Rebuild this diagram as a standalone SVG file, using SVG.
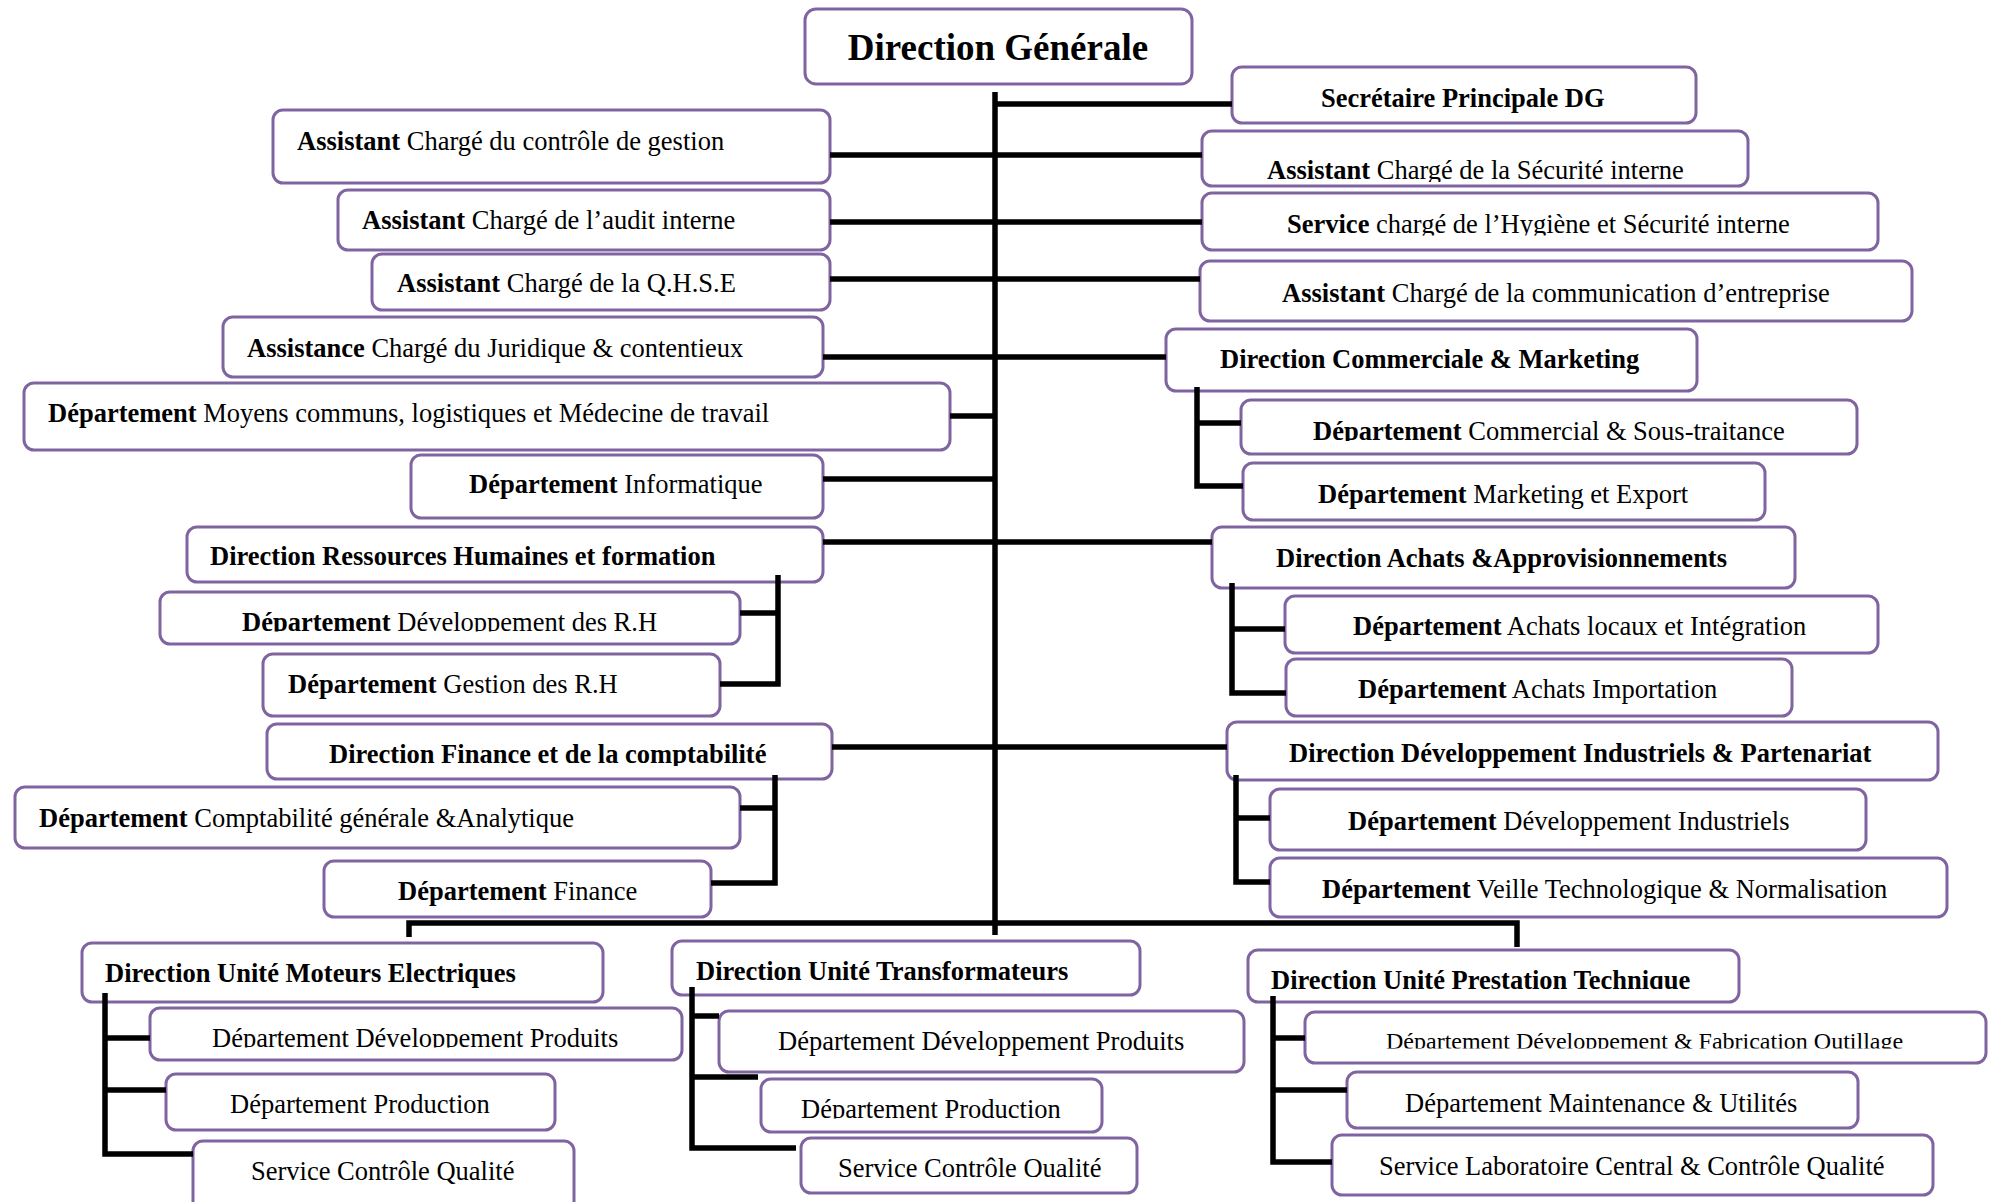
<svg xmlns="http://www.w3.org/2000/svg" width="1994" height="1202" viewBox="0 0 1994 1202">
  <style>
    .box { fill: #ffffff; stroke: #8064A2; stroke-width: 3; }
    .t { font-family: "Liberation Serif", "Times New Roman", serif; font-size: 26.5px; fill: #000000; }
    .b { font-weight: bold; }
    .s { font-size: 24px; }
    .title { font-family: "Liberation Serif", "Times New Roman", serif; font-size: 37px; font-weight: bold; fill: #000000; }
    #connectors path { fill: none; stroke: #000000; stroke-width: 5.5; stroke-linejoin: miter; }
  </style>
  <defs>
    <!-- text lines whose lower part is cut off by the box area -->
    <clipPath id="clipSecu" clipPathUnits="userSpaceOnUse"><rect x="1202" y="131" width="546" height="51"/></clipPath>
    <clipPath id="clipHyg" clipPathUnits="userSpaceOnUse"><rect x="1202" y="193" width="676" height="42.5"/></clipPath>
    <clipPath id="clipCom" clipPathUnits="userSpaceOnUse"><rect x="1241" y="400" width="616" height="41"/></clipPath>
    <clipPath id="clipDevRH" clipPathUnits="userSpaceOnUse"><rect x="160" y="592" width="580" height="39.5"/></clipPath>
    <clipPath id="clipFin" clipPathUnits="userSpaceOnUse"><rect x="267" y="724" width="565" height="42"/></clipPath>
    <clipPath id="clipDevP1" clipPathUnits="userSpaceOnUse"><rect x="150" y="1008" width="532" height="39.5"/></clipPath>
    <clipPath id="clipProd2" clipPathUnits="userSpaceOnUse"><rect x="761" y="1079" width="341" height="39.5"/></clipPath>
    <clipPath id="clipCQ2" clipPathUnits="userSpaceOnUse"><rect x="801" y="1138" width="336" height="39"/></clipPath>
    <clipPath id="clipPrest" clipPathUnits="userSpaceOnUse"><rect x="1248" y="950" width="491" height="39"/></clipPath>
    <clipPath id="clipOut" clipPathUnits="userSpaceOnUse"><rect x="1305" y="1012" width="681" height="36.5"/></clipPath>
  </defs>

  <!-- top -->
  <g id="dg">
    <rect class="box" x="805" y="9" width="387" height="75" rx="11"/>
    <text class="title" x="998" y="60" text-anchor="middle">Direction Générale</text>
  </g>

  <!-- left column -->
  <g id="ctrl-gestion">
    <rect class="box" x="273" y="110" width="557" height="73" rx="10"/>
    <text class="t" x="297" y="150"><tspan class="b">Assistant</tspan> Chargé du contrôle de gestion</text>
  </g>
  <g id="audit">
    <rect class="box" x="338" y="190" width="492" height="60" rx="10"/>
    <text class="t" x="362" y="229"><tspan class="b">Assistant</tspan> Chargé de l’audit interne</text>
  </g>
  <g id="qhse">
    <rect class="box" x="372" y="254" width="458" height="56" rx="10"/>
    <text class="t" x="397" y="292"><tspan class="b">Assistant</tspan> Chargé de la Q.H.S.E</text>
  </g>
  <g id="juridique">
    <rect class="box" x="223" y="317" width="600" height="60" rx="10"/>
    <text class="t" x="247" y="357"><tspan class="b">Assistance</tspan> Chargé du Juridique &amp; contentieux</text>
  </g>
  <g id="moyens">
    <rect class="box" x="24" y="383" width="926" height="67" rx="10"/>
    <text class="t" x="48" y="422"><tspan class="b">Département</tspan> Moyens communs, logistiques et Médecine de travail</text>
  </g>
  <g id="informatique">
    <rect class="box" x="411" y="455" width="412" height="63" rx="10"/>
    <text class="t" x="469" y="493"><tspan class="b">Département</tspan> Informatique</text>
  </g>
  <g id="dir-rh">
    <rect class="box" x="187" y="527" width="636" height="55" rx="10"/>
    <text class="t b" x="210" y="565">Direction Ressources Humaines et formation</text>
  </g>
  <g id="dev-rh">
    <rect class="box" x="160" y="592" width="580" height="52" rx="10"/>
    <text class="t" x="242" y="631" clip-path="url(#clipDevRH)"><tspan class="b">Département</tspan> Développement des R.H</text>
  </g>
  <g id="gestion-rh">
    <rect class="box" x="263" y="654" width="457" height="62" rx="10"/>
    <text class="t" x="288" y="693"><tspan class="b">Département</tspan> Gestion des R.H</text>
  </g>
  <g id="dir-finance">
    <rect class="box" x="267" y="724" width="565" height="55" rx="10"/>
    <text class="t b" x="329" y="763" clip-path="url(#clipFin)">Direction Finance et de la comptabilité</text>
  </g>
  <g id="comptabilite">
    <rect class="box" x="15" y="787" width="725" height="61" rx="10"/>
    <text class="t" x="39" y="827"><tspan class="b">Département</tspan> Comptabilité générale &amp;Analytique</text>
  </g>
  <g id="finance">
    <rect class="box" x="324" y="861" width="387" height="56" rx="10"/>
    <text class="t" x="398" y="900"><tspan class="b">Département</tspan> Finance</text>
  </g>

  <!-- right column -->
  <g id="secretaire">
    <rect class="box" x="1232" y="67" width="464" height="56" rx="10"/>
    <text class="t b" x="1321" y="107">Secrétaire Principale DG</text>
  </g>
  <g id="securite">
    <rect class="box" x="1202" y="131" width="546" height="55" rx="10"/>
    <text class="t" x="1267" y="179" clip-path="url(#clipSecu)"><tspan class="b">Assistant</tspan> Chargé de la Sécurité interne</text>
  </g>
  <g id="hygiene">
    <rect class="box" x="1202" y="193" width="676" height="57" rx="10"/>
    <text class="t" x="1287" y="233" clip-path="url(#clipHyg)"><tspan class="b">Service</tspan> chargé de l’Hygiène et Sécurité interne</text>
  </g>
  <g id="communication">
    <rect class="box" x="1200" y="261" width="712" height="60" rx="10"/>
    <text class="t" x="1282" y="302"><tspan class="b">Assistant</tspan> Chargé de la communication d’entreprise</text>
  </g>
  <g id="dir-commerciale">
    <rect class="box" x="1166" y="329" width="531" height="62" rx="10"/>
    <text class="t b" x="1220" y="368">Direction Commerciale &amp; Marketing</text>
  </g>
  <g id="commercial">
    <rect class="box" x="1241" y="400" width="616" height="54" rx="10"/>
    <text class="t" x="1313" y="440" clip-path="url(#clipCom)"><tspan class="b">Département</tspan> Commercial &amp; Sous-traitance</text>
  </g>
  <g id="marketing">
    <rect class="box" x="1243" y="463" width="522" height="57" rx="10"/>
    <text class="t" x="1318" y="503"><tspan class="b">Département</tspan> Marketing et Export</text>
  </g>
  <g id="dir-achats">
    <rect class="box" x="1212" y="527" width="583" height="61" rx="10"/>
    <text class="t b" x="1276" y="567">Direction Achats &amp;Approvisionnements</text>
  </g>
  <g id="achats-locaux">
    <rect class="box" x="1285" y="596" width="593" height="57" rx="10"/>
    <text class="t" x="1353" y="635"><tspan class="b">Département</tspan> Achats locaux et Intégration</text>
  </g>
  <g id="achats-import">
    <rect class="box" x="1286" y="659" width="506" height="57" rx="10"/>
    <text class="t" x="1358" y="698"><tspan class="b">Département</tspan> Achats Importation</text>
  </g>
  <g id="dir-dev-ind">
    <rect class="box" x="1227" y="722" width="711" height="58" rx="10"/>
    <text class="t b" x="1289" y="762">Direction Développement Industriels &amp; Partenariat</text>
  </g>
  <g id="dev-ind">
    <rect class="box" x="1270" y="789" width="596" height="61" rx="10"/>
    <text class="t" x="1348" y="830"><tspan class="b">Département</tspan> Développement Industriels</text>
  </g>
  <g id="veille">
    <rect class="box" x="1270" y="858" width="677" height="59" rx="10"/>
    <text class="t" x="1322" y="898"><tspan class="b">Département</tspan> Veille Technologique &amp; Normalisation</text>
  </g>

  <!-- production units -->
  <g id="moteurs">
    <rect class="box" x="82" y="943" width="521" height="59" rx="10"/>
    <text class="t b" x="105" y="982">Direction Unité Moteurs Electriques</text>
  </g>
  <g id="moteurs-dev">
    <rect class="box" x="150" y="1008" width="532" height="52" rx="10"/>
    <text class="t" x="212" y="1047" clip-path="url(#clipDevP1)">Département Développement Produits</text>
  </g>
  <g id="moteurs-prod">
    <rect class="box" x="166" y="1074" width="389" height="56" rx="10"/>
    <text class="t" x="230" y="1113">Département Production</text>
  </g>
  <g id="moteurs-cq">
    <rect class="box" x="193" y="1141" width="381" height="72" rx="10"/>
    <text class="t" x="251" y="1180">Service Contrôle Qualité</text>
  </g>

  <g id="transfo">
    <rect class="box" x="672" y="941" width="468" height="54" rx="10"/>
    <text class="t b" x="696" y="980">Direction Unité Transformateurs</text>
  </g>
  <g id="transfo-dev">
    <rect class="box" x="719" y="1011" width="525" height="61" rx="10"/>
    <text class="t" x="778" y="1050">Département Développement Produits</text>
  </g>
  <g id="transfo-prod">
    <rect class="box" x="761" y="1079" width="341" height="53" rx="10"/>
    <text class="t" x="801" y="1118" clip-path="url(#clipProd2)">Département Production</text>
  </g>
  <g id="transfo-cq">
    <rect class="box" x="801" y="1138" width="336" height="55" rx="10"/>
    <text class="t" x="838" y="1177" clip-path="url(#clipCQ2)">Service Contrôle Qualité</text>
  </g>

  <g id="prestation">
    <rect class="box" x="1248" y="950" width="491" height="52" rx="10"/>
    <text class="t b" x="1271" y="989" clip-path="url(#clipPrest)">Direction Unité Prestation Technique</text>
  </g>
  <g id="prestation-outillage">
    <rect class="box" x="1305" y="1012" width="681" height="51" rx="10"/>
    <text class="t s" x="1386" y="1049" clip-path="url(#clipOut)">Département Développement &amp; Fabrication Outillage</text>
  </g>
  <g id="prestation-maintenance">
    <rect class="box" x="1347" y="1072" width="511" height="56" rx="10"/>
    <text class="t" x="1405" y="1112">Département Maintenance &amp; Utilités</text>
  </g>
  <g id="prestation-labo">
    <rect class="box" x="1332" y="1135" width="601" height="60" rx="10"/>
    <text class="t" x="1379" y="1175">Service Laboratoire Central &amp; Contrôle Qualité</text>
  </g>

  <!-- connectors -->
  <g id="connectors">
    <!-- main trunk and branches -->
    <path d="M995 92 V935"/>
    <path d="M995 104 H1232"/>
    <path d="M830 155 H1202"/>
    <path d="M830 222 H1202"/>
    <path d="M830 279 H1200"/>
    <path d="M823 357 H1166"/>
    <path d="M950 416 H995"/>
    <path d="M823 479 H995"/>
    <path d="M823 542 H1212"/>
    <path d="M832 747 H1227"/>
    <!-- left sub-groups -->
    <path d="M778 575 V684 H720"/>
    <path d="M740 613 H778"/>
    <path d="M775 775 V883 H711"/>
    <path d="M740 808 H775"/>
    <!-- right sub-groups -->
    <path d="M1197 387 V486 H1243"/>
    <path d="M1197 423 H1241"/>
    <path d="M1232 583 V693 H1286"/>
    <path d="M1232 629 H1285"/>
    <path d="M1236 775 V882 H1270"/>
    <path d="M1236 818 H1270"/>
    <!-- bottom bus -->
    <path d="M409 937 V923 H1517 V947"/>
    <!-- unit sub-groups -->
    <path d="M105 993 V1154 H193"/>
    <path d="M105 1038 H150"/>
    <path d="M105 1090 H166"/>
    <path d="M692 987 V1148 H796"/>
    <path d="M692 1016 H719"/>
    <path d="M692 1077 H758"/>
    <path d="M1273 996 V1162 H1332"/>
    <path d="M1273 1038 H1305"/>
    <path d="M1273 1090 H1347"/>
  </g>
</svg>
